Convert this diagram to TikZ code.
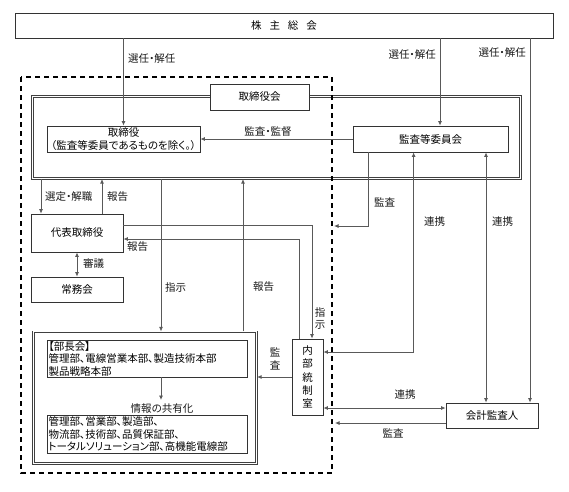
\documentclass[tikz,border=0pt]{standalone}
\usepackage{fontspec}
\setmainfont{Noto Sans CJK JP}[RawFeature=+palt]
\usetikzlibrary{arrows.meta}
\begin{document}
\begin{tikzpicture}[x=1pt,y=-1pt,
  every node/.append style={font=\fontsize{10.5pt}{13pt}\selectfont},
  box/.style={draw=black!80, line width=0.8pt, rectangle, inner sep=1pt, fill=white},
  dbox/.style={draw=black!75, double=white, double distance=1.2pt, line width=0.7pt, rectangle, inner sep=0pt},
  conn/.style={draw=black!65, line width=0.8pt},
  arr/.style={conn, -{Latex[length=4.5pt,width=4pt]}},
  darr/.style={conn, {Latex[length=4.5pt,width=4pt]}-{Latex[length=4.5pt,width=4pt]}},
  lbl/.style={inner sep=0pt, text=black!90}
]
\useasboundingbox (0,0) rectangle (569,491);

% boxes
\node[box, minimum width=538pt, minimum height=25pt] (kabu) at (284,25.5) {株\hspace{0.75em}主\hspace{0.75em}総\hspace{0.75em}会};
\node[dbox, minimum width=488.4pt, minimum height=82.4pt] (kai) at (276.5,137.5) {};
\node[dbox, minimum width=223.4pt, minimum height=131.4pt] (bucho) at (145,397.5) {};
\node[box, minimum width=99pt, minimum height=26pt] (kailbl) at (259.5,97) {取締役会};
\node[box, minimum width=153pt, minimum height=26pt, align=center, font=\fontsize{10.5pt}{12.5pt}\selectfont] (tori) at (123.5,139) {取締役\\（監査等委員であるものを除く。）};
\node[box, minimum width=155pt, minimum height=26pt] (iin) at (430.5,139) {監査等委員会};
\node[box, minimum width=92pt, minimum height=38pt] (daihyo) at (77,233) {代表取締役};
\node[box, minimum width=92pt, minimum height=25pt] (jomu) at (77,289.5) {常務会};
\node[box, minimum width=31pt, minimum height=76pt, align=center, font=\fontsize{10.5pt}{13.3pt}\selectfont] (naibu) at (307.5,377) {内\\部\\統\\制\\室};
\node[box, minimum width=92pt, minimum height=25pt] (kaikei) at (492,415.5) {会計監査人};
\node[box, minimum width=200pt, minimum height=37pt, text width=197pt, align=left, font=\fontsize{10.5pt}{12.5pt}\selectfont] (b1) at (147,358.5) {【部長会】\\管理部、電線営業本部、製造技術本部\\製品戦略本部};
\node[box, minimum width=200pt, minimum height=38pt, text width=197pt, align=left, font=\fontsize{10.5pt}{12.5pt}\selectfont] (b2) at (147,434) {管理部、営業部、製造部、\\物流部、技術部、品質保証部、\\トータルソリューション部、高機能電線部};

% helper coordinates
\coordinate (x41) at (41,0);
\coordinate (x102) at (102,0);
\coordinate (x161) at (161,0);
\coordinate (x243) at (243,0);
\coordinate (x440) at (440,0);
\coordinate (x486) at (486,0);
\coordinate (x530) at (530,0);
\coordinate (p225) at (0,225);
\coordinate (p239) at (0,239);
\coordinate (p352) at (0,352);
\coordinate (p408) at (0,408);
\coordinate (p423) at (0,423);
\coordinate (d226) at (334,226);
\coordinate (d423) at (335,423);
\coordinate (info) at (161,400);

% connectors
\draw[arr] (kabu.south -| tori.north) -- (tori.north);
\draw[arr] (kabu.south -| x440) -- (iin.north -| x440);
\draw[arr] (kabu.south -| x530) -- (kaikei.north -| x530);
\draw[arr] (iin.west) -- (tori.east);
\draw[arr] (kai.south -| x41) -- (daihyo.north -| x41);
\draw[arr] (daihyo.north -| x102) -- (kai.south -| x102);
\draw[darr] (daihyo.south) -- (jomu.north);
\draw[arr] (kai.south -| x161) -- (bucho.north -| x161);
\draw[arr] (bucho.north -| x243) -- (kai.south -| x243);
\draw[arr] (daihyo.east |- p225) -| ([xshift=4.5pt]naibu.north);
\draw[arr] ([xshift=-8.5pt]naibu.north) |- (daihyo.east |- p239);
\draw[arr] ([xshift=16pt]iin.south west) |- (d226);
\draw[darr] ([xshift=61pt]iin.south west) |- (naibu.east |- p352);
\draw[darr] (iin.south -| x486) -- (kaikei.north -| x486);
\draw[darr] (naibu.east |- p408) -- (kaikei.west |- p408);
\draw[arr] (kaikei.west |- p423) -- (d423);
\draw[arr] (naibu.west) -- (bucho.east |- naibu.west);
\draw[arr] (b1.south -| info) -- (info);

% dashed frame
\draw[black, line width=1.1pt, dash pattern=on 5pt off 4pt] (21,77) rectangle (332,473);

% labels
\node[lbl, anchor=west] (l1) at (128,59) {選任・解任};
\node[lbl, anchor=east] (l2) at (436,55) {選任・解任};
\node[lbl, anchor=east] (l3) at (526,53) {選任・解任};
\node[lbl] (l4) at (268,132) {監査・監督};
\node[lbl, anchor=west] (l5) at (45,197) {選定・解職};
\node[lbl, anchor=west] (l6) at (107,197) {報告};
\node[lbl, anchor=west] (l7) at (83,264) {審議};
\node[lbl, anchor=west] (l8) at (165,287) {指示};
\node[lbl, anchor=west] (l9) at (253,287) {報告};
\node[lbl, align=center, font=\fontsize{10.5pt}{12pt}\selectfont] (l10) at (320,318) {指\\示};
\node[lbl, anchor=west] (l11) at (127,247) {報告};
\node[lbl, anchor=west] (l12) at (374,202) {監査};
\node[lbl, anchor=west] (l13) at (424,222) {連携};
\node[lbl, anchor=west] (l14) at (492,222) {連携};
\node[lbl] (l15) at (405,395) {連携};
\node[lbl] (l16) at (393,433) {監査};
\node[lbl, align=center, font=\fontsize{10.5pt}{13pt}\selectfont] (l17) at (275,358.5) {監\\査};
\node[lbl] (l18) at (162,409) {情報の共有化};
\end{tikzpicture}
\end{document}
